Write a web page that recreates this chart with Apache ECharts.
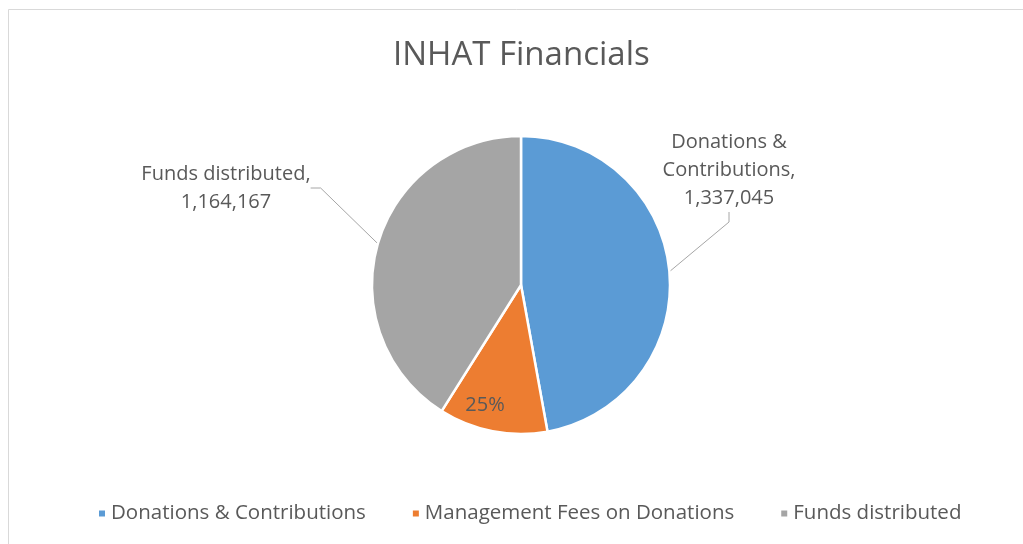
<!DOCTYPE html>
<html>
<head>
<meta charset="utf-8">
<script src="https://cdn.jsdelivr.net/npm/echarts@6/dist/echarts.min.js"></script>
<style>
  html, body { margin: 0; padding: 0; background: #fff; }
  #chart { width: 1023px; height: 544px; }
</style>
</head>
<body>
<div id="chart"></div>
<script>
// data
const categories = ['Donations & Contributions', 'Management Fees on Donations', 'Funds distributed'];
const values = [1337045, 334261, 1164167];
const colors = ['#5b9bd5', '#ed7d31', '#a5a5a5'];

// where the labels sit (Excel placed them by hand)
const labelSpots = [
  { x: 729, y: 170 },
  { x: 485, y: 405 },
  { x: 226, y: 188 }
];

const chart = echarts.init(document.getElementById('chart'));

const fmt = n => n.toLocaleString('en-US');

chart.setOption({
  backgroundColor: '#fff',
  textStyle: { fontFamily: 'Open Sans', color: '#595959' },
  graphic: [{
    type: 'rect',
    shape: { x: 8.5, y: 9.5, width: 1030, height: 560 },
    style: { fill: 'none', stroke: '#d9d9d9', lineWidth: 1 },
    silent: true
  }],
  title: {
    text: 'INHAT Financials',
    left: 388,
    top: 34,
    textStyle: { fontSize: 33, fontWeight: 'normal', color: '#595959', fontFamily: 'Open Sans' }
  },
  legend: {
    bottom: 15,
    left: 92,
    itemWidth: 8,
    itemHeight: 8,
    itemGap: 45,
    icon: 'rect',
    textStyle: { fontSize: 20.5, color: '#595959', fontFamily: 'Open Sans' },
    data: categories
  },
  series: [{
    type: 'pie',
    center: [521, 285],
    radius: [0, 149],
    startAngle: 90,
    clockwise: true,
    avoidLabelOverlap: false,
    itemStyle: { borderColor: '#fff', borderWidth: 2.5 },
    label: {
      show: true,
      position: 'outside',
      fontSize: 20,
      lineHeight: 28,
      color: '#595959',
      align: 'center',
      formatter: p => p.name.replace(' & ', ' &\n') + ',\n' + fmt(p.value)
    },
    labelLine: {
      show: true,
      length: 20,
      length2: 10,
      lineStyle: { color: '#a6a6a6', width: 1 }
    },
    labelLayout: p => {
      const s = labelSpots[p.dataIndex];
      return { x: s.x, y: s.y, align: 'center', verticalAlign: 'middle' };
    },
    data: categories.map((name, i) => {
      const d = { name, value: values[i], itemStyle: { color: colors[i] } };
      if (i === 1) {
        d.label = { position: 'inside', fontSize: 20, formatter: '25%' };
        d.labelLine = { show: false };
      }
      if (i === 2) {
        d.label = { formatter: p => p.name + ',\n' + fmt(p.value) };
      }
      return d;
    })
  }]
});
</script>
</body>
</html>
